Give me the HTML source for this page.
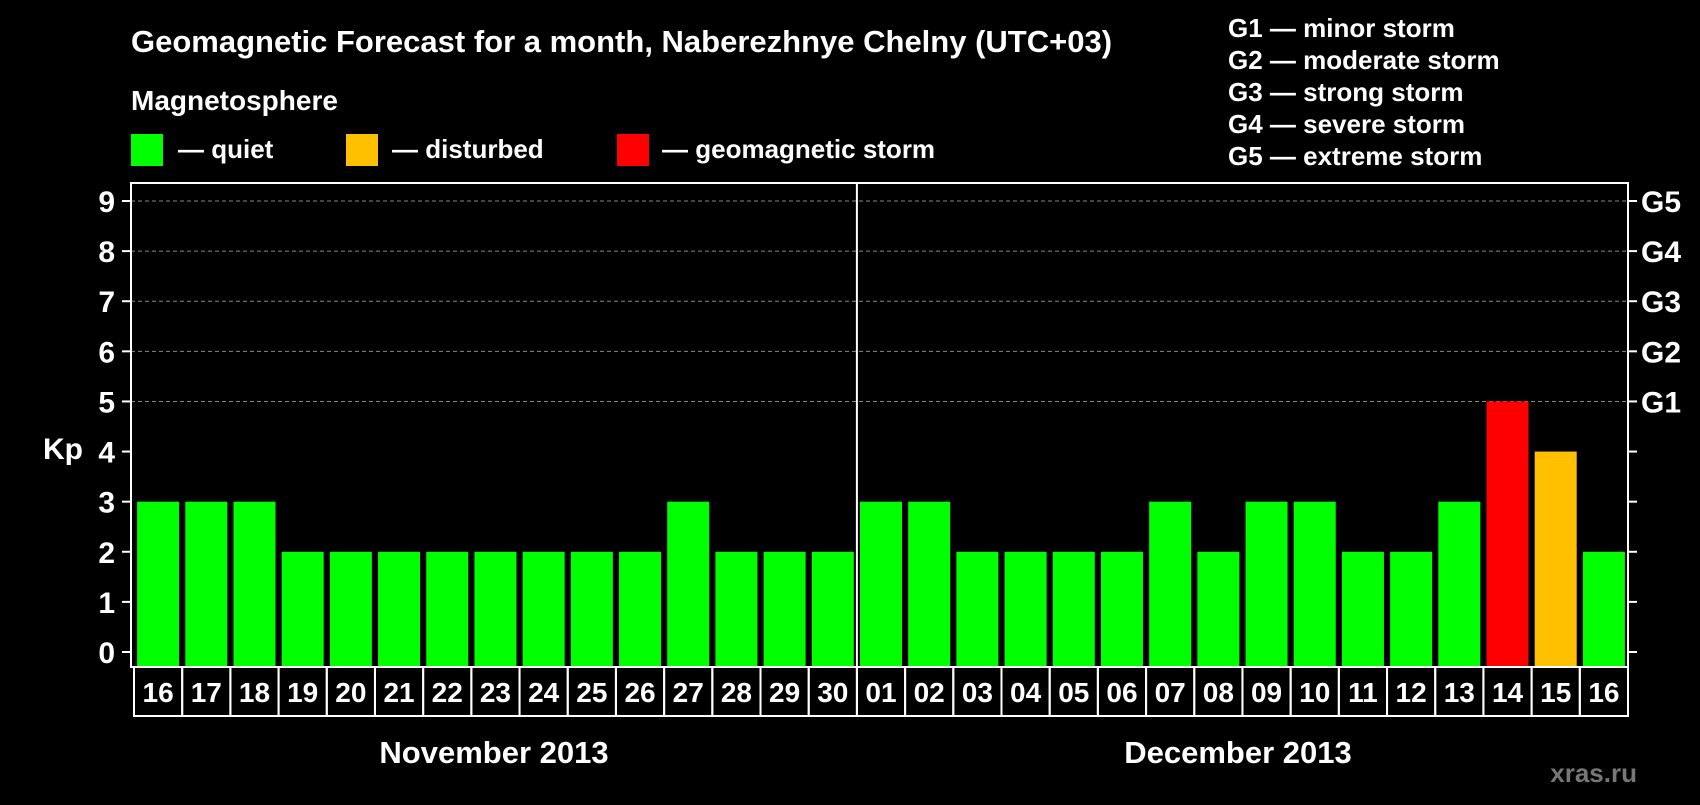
<!DOCTYPE html>
<html><head><meta charset="utf-8"><style>
body{margin:0;background:#000;width:1700px;height:800px;overflow:hidden;font-family:"Liberation Sans",sans-serif;font-weight:bold;color:#fff}
svg text{font-family:"Liberation Sans",sans-serif;font-weight:bold;fill:#fff}
</style></head><body>
<svg id="chart" width="1700" height="800" xmlns="http://www.w3.org/2000/svg">
<text x="131" y="52" font-size="31">Geomagnetic Forecast for a month, Naberezhnye Chelny (UTC+03)</text>
<text x="131" y="110" font-size="28">Magnetosphere</text>
<g><rect x="131" y="134" width="32" height="32" fill="#00ff00"/><text x="178" y="158" font-size="26">— quiet</text></g>
<g><rect x="346" y="134" width="32" height="32" fill="#ffc000"/><text x="392" y="158" font-size="26">— disturbed</text></g>
<g><rect x="617" y="134" width="32" height="32" fill="#ff0000"/><text x="662" y="158" font-size="26">— geomagnetic storm</text></g>
<g font-size="26">
<text x="1228" y="37">G1 — minor storm</text>
<text x="1228" y="69">G2 — moderate storm</text>
<text x="1228" y="101">G3 — strong storm</text>
<text x="1228" y="133">G4 — severe storm</text>
<text x="1228" y="165">G5 — extreme storm</text>
</g>
<text x="63" y="459" font-size="30" text-anchor="middle">Kp</text>
<g id="grid"></g><g id="bars"></g><g id="axes"></g>
<text x="494" y="763" font-size="31" text-anchor="middle">November 2013</text>
<text x="1238" y="763" font-size="31" text-anchor="middle">December 2013</text>
<text x="1637" y="782" font-size="26" text-anchor="end" style="fill:#777">xras.ru</text>
</svg>
<script>
const days=["16","17","18","19","20","21","22","23","24","25","26","27","28","29","30","01","02","03","04","05","06","07","08","09","10","11","12","13","14","15","16"];
const kpValues=[3,3,3,2,2,2,2,2,2,2,2,3,2,2,2,3,3,2,2,2,2,3,2,3,3,2,2,3,5,4,2];
const yTicks=[0,1,2,3,4,5,6,7,8,9];
const gLabels=["G1","G2","G3","G4","G5"];
const NS="http://www.w3.org/2000/svg";
const L=131,R=1628,T=183,B=667,cellL=134,cellB=716;
const cw=(R-cellL)/days.length;
const y=v=>652-v*(652-201)/9;
const x=i=>cellL+i*cw;
function mk(t,a,p){const e=document.createElementNS(NS,t);for(const k in a)e.setAttribute(k,a[k]);p.appendChild(e);return e;}
const grid=document.getElementById('grid'),bars=document.getElementById('bars'),axes=document.getElementById('axes');
yTicks.forEach(v=>{
 if(v>=5){const g=mk('line',{x1:L,x2:R,y1:y(v),y2:y(v),stroke:'#888','stroke-dasharray':'4,3','stroke-width':1},grid);
 
 }
 const t=mk('line',{x1:L-9,x2:L,y1:y(v),y2:y(v),stroke:'#fff','stroke-width':2},axes);
 
 
 const t2=mk('line',{x1:R,x2:R+9,y1:y(v),y2:y(v),stroke:'#fff','stroke-width':2},axes);
 
 
 const lb=mk('text',{x:115,y:y(v)+11,'font-size':30,'text-anchor':'end'},axes);lb.textContent=v;
 
 
});
gLabels.forEach((g,i)=>{const lb=mk('text',{x:1641,y:y(5+i)+11,'font-size':30},axes);lb.textContent=g;
 
 });
kpValues.forEach((v,i)=>{
 const c=v>=5?'#ff0000':v>=4?'#ffc000':'#00ff00';
 const b=mk('rect',{x:x(i)+cw/2-21,y:y(v),width:42,height:B-y(v),fill:c},bars);
 
 
 const cell=mk('rect',{x:x(i),y:B,width:cw,height:cellB-B,fill:'none',stroke:'#fff','stroke-width':2},axes);
 
 
 const t=mk('text',{x:x(i)+cw/2,y:B+35,'font-size':28,'text-anchor':'middle'},axes);t.textContent=days[i];
 
 
});
const fr=mk('rect',{x:L,y:T,width:R-L,height:B-T,fill:'none',stroke:'#fff','stroke-width':2},axes);


const sep=mk('line',{x1:x(15),x2:x(15),y1:T,y2:B,stroke:'#fff','stroke-width':2},axes);


</script>
</body></html>
